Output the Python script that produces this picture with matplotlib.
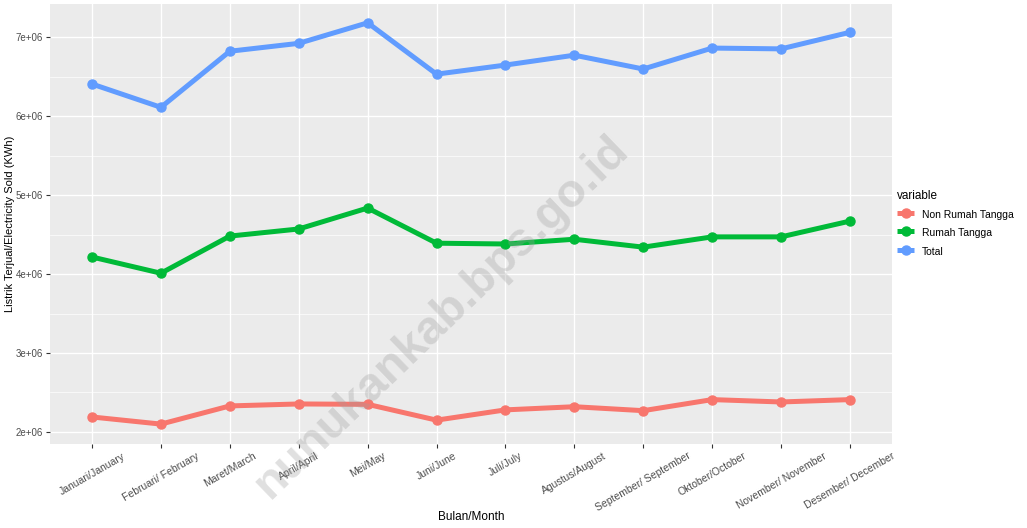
import numpy as np
import matplotlib.pyplot as plt
from matplotlib.ticker import FixedLocator

plt.rcParams['font.family'] = ['Liberation Sans', 'DejaVu Sans']

# Data
months = ["Januari/January", "Februari/ February", "Maret/March", "April/April",
          "Mei/May", "Juni/June", "Juli/July", "Agustus/August",
          "September/ September", "Oktober/October", "November/ November",
          "Desember/ December"]
non_rumah_tangga = [2.19e6, 2.10e6, 2.33e6, 2.355e6, 2.35e6, 2.15e6,
                    2.28e6, 2.32e6, 2.27e6, 2.41e6, 2.38e6, 2.41e6]
rumah_tangga = [4.215e6, 4.01e6, 4.48e6, 4.57e6, 4.835e6, 4.39e6,
                4.38e6, 4.44e6, 4.34e6, 4.47e6, 4.47e6, 4.67e6]
total = [6.405e6, 6.11e6, 6.82e6, 6.92e6, 7.18e6, 6.53e6,
         6.645e6, 6.77e6, 6.595e6, 6.86e6, 6.85e6, 7.06e6]

series = [("Non Rumah Tangga", non_rumah_tangga, "#F8766D"),
          ("Rumah Tangga", rumah_tangga, "#00BA38"),
          ("Total", total, "#619CFF")]

fig = plt.figure(figsize=(10.27, 5.28), dpi=100)
ax = fig.add_axes([50/1027, (528-444)/528, 842/1027, 440/528])
ax.set_facecolor("#EBEBEB")

x = np.arange(len(months))
for name, vals, col in series:
    ax.plot(x, vals, color=col, lw=3.6, marker='o', ms=6.5,
            solid_capstyle='butt', label=name, zorder=3)

ax.set_xlim(-0.61, len(months) - 1 + 0.61)
ax.set_ylim(1.848e6, 7.418e6)

ax.yaxis.set_minor_locator(FixedLocator([2.5e6, 3.5e6, 4.5e6, 5.5e6, 6.5e6]))
ax.set_yticks([2e6, 3e6, 4e6, 5e6, 6e6, 7e6])
ax.set_yticklabels(["2e+06", "3e+06", "4e+06", "5e+06", "6e+06", "7e+06"])
ax.set_xticks(x)
ax.set_xticklabels(months, rotation=30, ha='center', va='top')

ax.grid(which='major', color='white', lw=1.0, zorder=0)
ax.grid(which='minor', axis='y', color='white', lw=0.5, zorder=0)
ax.set_axisbelow(True)
for s in ax.spines.values():
    s.set_visible(False)
ax.tick_params(axis='both', which='major', length=3, width=0.8, color='#333333',
               labelsize=7.5, labelcolor='#4D4D4D', pad=2)
ax.tick_params(axis='y', labelsize=7)
ax.tick_params(which='minor', length=0)

ax.set_xlabel("Bulan/Month", fontsize=8.5)
ax.set_ylabel("Listrik Terjual/Electricity Sold (KWh)", fontsize=8)
ax.xaxis.set_label_coords(0.5, -0.152)
ax.yaxis.set_label_coords(-0.042, 0.5)

leg = ax.legend(title="variable", loc='center left', bbox_to_anchor=(1.0, 0.5),
                frameon=False, fontsize=7.5, title_fontsize=8.5,
                handlelength=1.6, handleheight=1.5, labelspacing=0.55,
                borderaxespad=0.1)
leg._legend_box.align = "left"

# watermark
fig.text(0.43, 0.40, "nunukankab.bps.go.id", fontsize=34, fontweight='bold',
         color='#9E9E9E', alpha=0.32, rotation=44, ha='center', va='center',
         zorder=10)

fig.savefig("out.png", dpi=100)
